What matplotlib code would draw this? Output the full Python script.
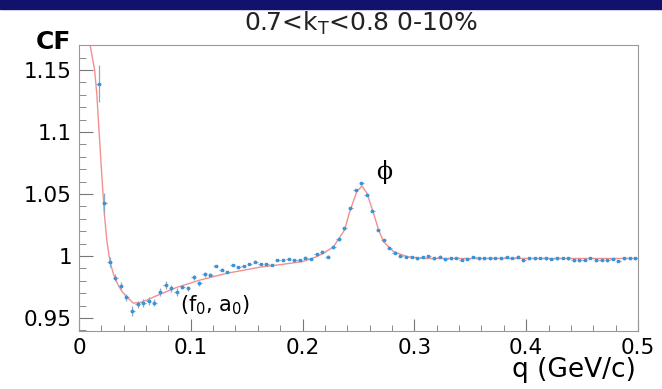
import matplotlib.pyplot as plt
from matplotlib.patches import Rectangle
from matplotlib.ticker import MultipleLocator

# 相关函数数据点 (bin 中心, CF)
q = [0.0175, 0.0225, 0.0275, 0.0325, 0.0375, 0.0425, 0.0475, 0.0525, 0.0575, 0.0625,
     0.0675, 0.0725, 0.0775, 0.0825, 0.0875, 0.0925, 0.0975, 0.1025, 0.1075, 0.1125,
     0.1175, 0.1225, 0.1275, 0.1325, 0.1375, 0.1425, 0.1475, 0.1525, 0.1575, 0.1625,
     0.1675, 0.1725, 0.1775, 0.1825, 0.1875, 0.1925, 0.1975, 0.2025, 0.2075, 0.2125,
     0.2175, 0.2225, 0.2275, 0.2325, 0.2375, 0.2425, 0.2475, 0.2525, 0.2575, 0.2625,
     0.2675, 0.2725, 0.2775, 0.2825, 0.2875, 0.2925, 0.2975, 0.3025, 0.3075, 0.3125,
     0.3175, 0.3225, 0.3275, 0.3325, 0.3375, 0.3425, 0.3475, 0.3525, 0.3575, 0.3625,
     0.3675, 0.3725, 0.3775, 0.3825, 0.3875, 0.3925, 0.3975, 0.4025, 0.4075, 0.4125,
     0.4175, 0.4225, 0.4275, 0.4325, 0.4375, 0.4425, 0.4475, 0.4525, 0.4575, 0.4625,
     0.4675, 0.4725, 0.4775, 0.4825, 0.4875, 0.4925, 0.4975]
cf = [1.139, 1.043, 0.9954, 0.9825, 0.976, 0.9667, 0.956, 0.961, 0.962, 0.9637,
      0.9623, 0.971, 0.9766, 0.974, 0.971, 0.975, 0.974, 0.983, 0.978, 0.9852,
      0.985, 0.992, 0.989, 0.987, 0.9927, 0.9909, 0.992, 0.9935, 0.9954, 0.9935,
      0.9935, 0.9927, 0.9968, 0.9968, 0.9976, 0.9968, 0.9968, 0.9986, 0.9976, 1.0016,
      1.0035, 0.9995, 1.007, 1.0135, 1.0223, 1.0385, 1.0532, 1.0586, 1.049, 1.0366,
      1.021, 1.0129, 1.0067, 1.0027, 1.0, 0.9995, 0.999, 0.998, 0.999, 1.0,
      0.998, 0.9995, 0.9973, 0.998, 0.9985, 0.997, 0.9975, 0.999, 0.998, 0.998,
      0.998, 0.9985, 0.998, 0.999, 0.9985, 0.9995, 0.9965, 0.998, 0.998, 0.9985,
      0.998, 0.9975, 0.998, 0.9985, 0.998, 0.9965, 0.9965, 0.997, 0.9985, 0.9965,
      0.997, 0.9965, 0.9975, 0.996, 0.998, 0.998, 0.998]
cf_err = [0.015, 0.008, 0.004, 0.003, 0.003, 0.003, 0.004, 0.003, 0.003, 0.003,
          0.003, 0.003, 0.003, 0.003, 0.003, 0.002, 0.002, 0.002, 0.002, 0.002] + [0.001] * 77

# 拟合曲线
fit_q = [0.008, 0.014, 0.016, 0.018, 0.0203, 0.0227, 0.025, 0.0278, 0.031, 0.0343,
         0.038, 0.0427, 0.0486, 0.055, 0.062, 0.0696, 0.0875, 0.1083, 0.132, 0.162,
         0.18, 0.2, 0.2128, 0.22, 0.2277, 0.2375, 0.2426, 0.2486, 0.2531, 0.2576,
         0.2635, 0.268, 0.2724, 0.2814, 0.2934, 0.308, 0.332, 0.5]
fit_cf = [1.18, 1.15, 1.13, 1.10, 1.067, 1.034, 1.012, 0.995, 0.985, 0.978,
          0.972, 0.967, 0.962, 0.9625, 0.965, 0.968, 0.9747, 0.9806, 0.986, 0.991,
          0.993, 0.9955, 0.9995, 1.003, 1.0075, 1.021, 1.037, 1.052, 1.0565, 1.0506,
          1.0344, 1.021, 1.0115, 1.0035, 0.9995, 0.998, 0.998, 0.998]

x_ticks = [0, 0.1, 0.2, 0.3, 0.4, 0.5]
x_labels = ["0", "0.1", "0.2", "0.3", "0.4", "0.5"]
y_ticks = [0.95, 1.0, 1.05, 1.1, 1.15]
y_labels = ["0.95", "1", "1.05", "1.1", "1.15"]

plt.rcParams['font.family'] = ['DejaVu Sans']

fig = plt.figure(figsize=(6.62, 3.89), dpi=100)
fig.patch.set_facecolor('white')
# 顶部深蓝色条
fig.patches.append(Rectangle((0, 0.978), 1, 0.022, transform=fig.transFigure,
                             color='#12126e', zorder=0))

ax = fig.add_axes([0.1193, 0.1491, 0.8444, 0.7352])
ax.plot(fit_q, fit_cf, color='#f29090', lw=1.0, zorder=2)
ax.errorbar(q, cf, yerr=cf_err, xerr=0.0022, fmt='s', ms=2.1, color='#3796db',
            ecolor='#8fa8c0', elinewidth=0.9, capsize=0, zorder=3)

ax.set_xlim(0, 0.5)
ax.set_ylim(0.9395, 1.1702)
ax.set_xticks(x_ticks)
ax.set_xticklabels(x_labels)
ax.set_yticks(y_ticks)
ax.set_yticklabels(y_labels)
ax.xaxis.set_minor_locator(MultipleLocator(0.02))
ax.yaxis.set_minor_locator(MultipleLocator(0.01))
ax.tick_params(axis='both', which='both', direction='in', colors='#777777',
               labelcolor='black', labelsize=15.5, top=False, right=False)
ax.tick_params(axis='x', which='major', length=9, pad=5)
ax.tick_params(axis='x', which='minor', length=4)
ax.tick_params(axis='y', which='major', length=10, pad=5)
ax.tick_params(axis='y', which='minor', length=5)
for s in ax.spines.values():
    s.set_color('#999999')
    s.set_linewidth(0.8)

fig.text(0.545, 0.940, "0.7<k$_\\mathregular{T}$<0.8 0-10%", ha='center', va='center',
         fontsize=18, color='#222222')
fig.text(0.108, 0.892, "CF", ha='right', va='center', fontsize=18, fontweight='bold')
fig.text(0.961, 0.050, "q (GeV/c)", ha='right', va='center', fontsize=19)

ax.text(0.2655, 1.062, "ϕ", fontsize=17, family='DejaVu Serif')
ax.text(0.090, 0.9555, "(f$_\\mathregular{0}$, a$_\\mathregular{0}$)", fontsize=15)

fig.savefig("out.png", dpi=100)
